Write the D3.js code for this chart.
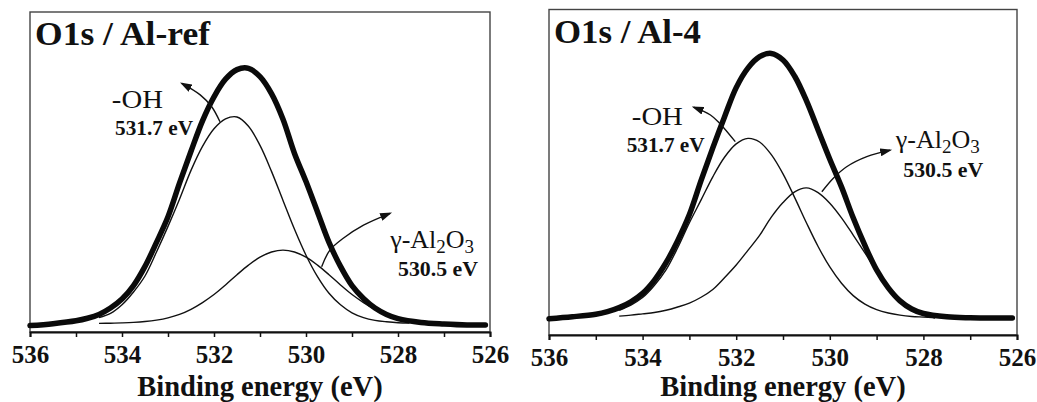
<!DOCTYPE html>
<html><head><meta charset="utf-8">
<script src="https://cdn.jsdelivr.net/npm/d3@7"></script>
<style>
body{margin:0;background:#fff;} svg{display:block}
</style>
</head><body>
<svg id="c" width="1037" height="402"></svg>
<script>
// ---- data (binding energy in eV, intensity in arbitrary units 0-100) ----
const envEnergy = [536.0, 535.5, 535.0, 534.75, 534.5, 534.25, 534.0, 533.75, 533.5, 533.25, 533.0, 532.75, 532.5, 532.25, 532.0, 531.75, 531.5, 531.25, 531.0, 530.75, 530.5, 530.25, 530.0, 529.75, 529.5, 529.25, 529.0, 528.75, 528.5, 528.25, 528.0, 527.5, 527.0, 526.5, 526.1];
const compEnergy = [534.5, 534.25, 534.0, 533.75, 533.5, 533.25, 533.0, 532.75, 532.5, 532.25, 532.0, 531.75, 531.5, 531.25, 531.0, 530.75, 530.5, 530.25, 530.0, 529.75, 529.5, 529.25, 529.0, 528.75, 528.5, 528.25, 528.0, 527.75];

const refEnvelope = [2.0, 2.6, 3.5, 4.3, 5.5, 7.5, 10.3, 14.5, 20.5, 28, 36, 46.5, 56.5, 66, 73.5, 79, 82, 82.4, 79.8, 74.5, 66.5, 55.8, 47, 37.5, 28, 20.5, 14.5, 10.5, 7.5, 5.5, 4.2, 3.0, 2.5, 2.2, 2.2];
const refOH = [4.5, 5.8, 8.5, 12.5, 17.5, 25.0, 33.0, 41.5, 50.5, 58.0, 63.5, 66.6, 67.2, 64.3, 58.3, 50.2, 41.1, 32.1, 24.0, 17.3, 12.1, 8.5, 6.0, 4.5, 3.65, 3.2, 2.9, 2.8];
const refAl2O3 = [2.7, 2.75, 2.85, 3.0, 3.26, 3.7, 4.4, 5.5, 7.1, 9.2, 11.7, 14.7, 17.9, 20.9, 23.4, 25.0, 25.6, 25.0, 23.4, 20.9, 17.9, 14.7, 11.7, 9.2, 7.1, 5.5, 4.4, 3.7];

const al4Envelope = [5.0, 5.6, 6.4, 7.2, 8.4, 10.2, 12.8, 16.8, 22.2, 29, 37, 47.5, 57.5, 67, 76, 82, 85.5, 86.5, 84.5, 79.5, 72, 63, 54, 45.5, 36, 27.5, 20, 14.5, 10.5, 8, 6.6, 5.6, 5.3, 5.2, 5.2];
const al4OH = [7.6, 9.2, 11.5, 15.2, 20.0, 26.8, 34.5, 41.5, 48.6, 54.6, 58.7, 60.4, 59.3, 55.4, 49.5, 42.2, 34.5, 27.2, 20.9, 15.9, 12.1, 9.5, 7.8, 6.75, 6.1, 5.7, 5.5, 5.3];
const al4Al2O3 = [5.8, 6.1, 6.5, 6.9, 7.6, 8.6, 9.8, 11.6, 14.0, 17.6, 21.5, 26.0, 30.6, 36.2, 40.7, 44.0, 45.2, 43.75, 40.5, 36.0, 30.7, 25.25, 19.6, 15.0, 11.0, 7.9, 6.2, 5.3];

const xTicks = [536, 534, 532, 530, 528, 526];
const xMinorTicks = [535, 533, 531, 529, 527];
const panelTitles = ["O1s / Al-ref", "O1s / Al-4"];
const xTitle = "Binding energy (eV)";
const ohText = "-OH";
const ohPeakText = "531.7 eV";
const alPeakText = "530.5 eV";

// ---- layout ----
const panels = [
  { left: 30, right: 490, top: 12, bottom: 332, title: panelTitles[0], titleW: 175,
    env: refEnvelope, oh: refOH, al: refAl2O3,
    ohArrow: [[531.87, 65.7], [532.05, 70.4], [532.30, 74.1], [532.70, 77.7]],
    alArrow: [[529.66, 20.4], [529.48, 25.6], [529.19, 29.3], [528.75, 33.4], [528.17, 37.1]],
    ohLab: [534.22, 70.0], ohPk: [534.15, 61.6], alLab: [528.17, 26.2], alPk: [528.0, 17.6] },
  { left: 549, right: 1017, top: 9.5, bottom: 335, title: panelTitles[1], titleW: 147,
    env: al4Envelope, oh: al4OH, al: al4Al2O3,
    ohArrow: [[532.02, 59.4], [532.35, 65.0], [532.55, 67.6], [532.91, 70.0]],
    alArrow: [[530.17, 44.0], [529.93, 48.1], [529.64, 51.7], [529.21, 54.8], [528.71, 56.8]],
    ohLab: [534.23, 64.5], ohPk: [534.34, 56.3], alLab: [528.59, 57.3], alPk: [528.43, 48.6] }
];

const FONT = "Liberation Serif";
const svg = d3.select('#c');
const defs = svg.append('defs');
defs.append('marker').attr('id', 'ah')
  .attr('viewBox', '0 0 12 8').attr('refX', 10).attr('refY', 4)
  .attr('markerWidth', 12).attr('markerHeight', 8)
  .attr('markerUnits', 'userSpaceOnUse').attr('orient', 'auto')
  .append('path').attr('d', 'M0,0L12,4L0,8z').attr('fill', '#111');

panels.forEach(p => {
  const x = d3.scaleLinear().domain([536, 526]).range([p.left, p.right]);
  const y = d3.scaleLinear().domain([0, 100]).range([p.bottom, p.top]);
  const g = svg.append('g');

  g.append('rect').attr('x', p.left).attr('y', p.top)
    .attr('width', p.right - p.left).attr('height', p.bottom - p.top)
    .attr('fill', 'none').attr('stroke', '#444').attr('stroke-width', 1.4);

  const line = d3.line().x(d => x(d[0])).y(d => y(d[1])).curve(d3.curveCatmullRom);

  [p.oh, p.al].forEach(vals => {
    g.append('path').datum(compEnergy.map((e, i) => [e, vals[i]]))
      .attr('d', line).attr('fill', 'none').attr('stroke', '#111').attr('stroke-width', 1.4);
  });
  g.append('path').datum(envEnergy.map((e, i) => [e, p.env[i]]))
    .attr('d', line).attr('fill', 'none').attr('stroke', '#0a0a0a')
    .attr('stroke-width', 5.5).attr('stroke-linecap', 'round');

  const ax = g.append('g').attr('transform', `translate(0,${p.bottom})`)
    .call(d3.axisBottom(x).tickValues(xTicks).tickSize(5).tickPadding(8).tickFormat(d3.format('d')));
  ax.attr('font-family', FONT);
  ax.select('.domain').attr('stroke', '#111').attr('stroke-width', 2);
  ax.selectAll('.tick line').attr('stroke', '#111').attr('stroke-width', 1.5);
  ax.selectAll('.tick text').style('font-family', FONT).attr('font-weight', 'bold')
    .attr('font-size', 25).attr('fill', '#111');
  const axm = g.append('g').attr('transform', `translate(0,${p.bottom})`)
    .call(d3.axisBottom(x).tickValues(xMinorTicks).tickSize(5).tickFormat(''));
  axm.select('.domain').remove();
  axm.selectAll('.tick line').attr('stroke', '#111').attr('stroke-width', 1.5);

  g.append('text').attr('x', (p.left + p.right) / 2).attr('y', 396)
    .attr('text-anchor', 'middle').style('font-family', FONT).attr('font-weight', 'bold')
    .attr('font-size', 28.5).attr('fill', '#111').text(xTitle);

  g.append('text').attr('x', p.left + 5).attr('y', p.top + 33)
    .style('font-family', FONT).attr('font-weight', 'bold').attr('font-size', 33)
    .attr('textLength', p.titleW).attr('lengthAdjust', 'spacingAndGlyphs')
    .attr('fill', '#111').text(p.title);

  [p.ohArrow, p.alArrow].forEach(pts => {
    g.append('path').datum(pts).attr('d', line).attr('fill', 'none')
      .attr('stroke', '#111').attr('stroke-width', 1.4).attr('marker-end', 'url(#ah)');
  });

  g.append('text').attr('x', x(p.ohLab[0])).attr('y', y(p.ohLab[1]))
    .style('font-family', FONT).attr('font-size', 25).attr('fill', '#111')
    .attr('textLength', 51).attr('lengthAdjust', 'spacingAndGlyphs').text(ohText);
  g.append('text').attr('x', x(p.ohPk[0])).attr('y', y(p.ohPk[1]))
    .style('font-family', FONT).attr('font-weight', 'bold').attr('font-size', 21).attr('fill', '#111')
    .attr('textLength', 78).attr('lengthAdjust', 'spacingAndGlyphs').text(ohPeakText);
  const t = g.append('text').attr('x', x(p.alLab[0])).attr('y', y(p.alLab[1]))
    .style('font-family', FONT).attr('font-size', 26).attr('fill', '#111');
  t.append('tspan').text('γ-Al');
  t.append('tspan').attr('font-size', 19).attr('dy', 5).text('2');
  t.append('tspan').attr('dy', -5).text('O');
  t.append('tspan').attr('font-size', 19).attr('dy', 5).text('3');
  g.append('text').attr('x', x(p.alPk[0])).attr('y', y(p.alPk[1]))
    .style('font-family', FONT).attr('font-weight', 'bold').attr('font-size', 21).attr('fill', '#111')
    .attr('textLength', 80).attr('lengthAdjust', 'spacingAndGlyphs').text(alPeakText);
});
</script>
</body></html>
